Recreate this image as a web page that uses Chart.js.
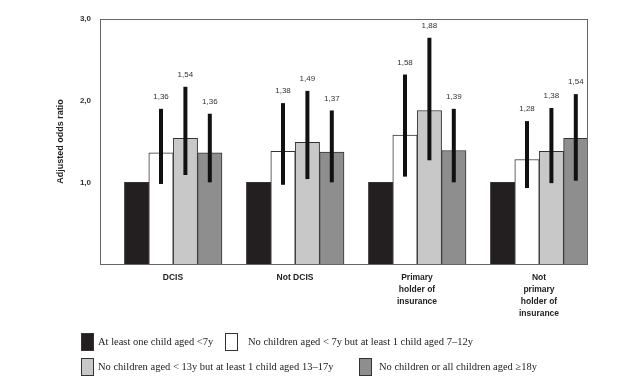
<!DOCTYPE html>
<html><head><meta charset="utf-8">
<script src="https://cdn.jsdelivr.net/npm/chart.js@4"></script>
<style>html,body{margin:0;padding:0;background:#fff}#wrap{width:640px;height:382px;position:relative}</style>
</head><body><div id="wrap"><canvas id="c"></canvas></div>
<script>
const categories = ['DCIS', 'Not DCIS', ['Primary', 'holder of', 'insurance'], ['Not', 'primary', 'holder of', 'insurance']];
const seriesNames = ['At least one child aged <7y', 'No children aged < 7y but at least 1 child aged 7\u201312y', 'No children aged < 13y but at least 1 child aged 13\u201317y', 'No children or all children aged \u226518y'];
const under7 = [1, 1, 1, 1];
const age7to12 = [1.36, 1.38, 1.58, 1.28];
const age13to17 = [1.54, 1.49, 1.88, 1.38];
const adultOrNone = [1.36, 1.37, 1.39, 1.54];
const lower7to12 = [0.98, 0.97, 1.07, 0.93];
const upper7to12 = [1.90, 1.97, 2.32, 1.75];
const lower13to17 = [1.09, 1.04, 1.27, 0.99];
const upper13to17 = [2.17, 2.12, 2.77, 1.91];
const lowerAdult = [1.00, 1.00, 1.00, 1.02];
const upperAdult = [1.84, 1.88, 1.90, 2.08];
const yTickLabels = ['', '1,0', '2,0', '3,0'];
const gapSlot = [null, null, null, null];

const fillColors = ['#231f20', '#ffffff', '#c8c8c8', '#8e8e8e'];
const legendPos = [[81, 98, 342], [225, 248, 342], [81, 98, 367], [359, 379, 367]];

Chart.defaults.font.family = '"Liberation Sans", Arial, sans-serif';

const decor = {
  id: 'decor',
  afterDatasetsDraw(chart) {
    const ctx = chart.ctx, y = chart.scales.y;
    chart.data.datasets.forEach((ds, i) => {
      if (!ds.upper) return;
      const meta = chart.getDatasetMeta(i);
      meta.data.forEach((bar, j) => {
        const x = bar.x;
        const yt = y.getPixelForValue(ds.upper[j]);
        const yb = y.getPixelForValue(ds.lower[j]);
        ctx.save();
        ctx.strokeStyle = '#111';
        ctx.lineWidth = 4;
        ctx.beginPath(); ctx.moveTo(x, yb); ctx.lineTo(x, yt); ctx.stroke();
        ctx.font = '8px "Liberation Sans", Arial, sans-serif';
        ctx.fillStyle = '#333';
        ctx.textAlign = 'center';
        ctx.textBaseline = 'middle';
        ctx.fillText(ds.data[j].toFixed(2).replace('.', ','), x, yt - 12);
        ctx.restore();
      });
    });
    const a = chart.chartArea;
    ctx.save();
    ctx.strokeStyle = '#666';
    ctx.lineWidth = 1;
    ctx.strokeRect(Math.round(a.left) + 0.5, Math.round(a.top) + 0.5, Math.round(a.right - a.left) - 1, Math.round(a.bottom - a.top));
    ctx.restore();
  },
  afterDraw(chart) {
    const ctx = chart.ctx;
    let k = 0;
    chart.data.datasets.forEach(ds => {
      if (!ds.label) return;
      const p = legendPos[k++];
      ctx.save();
      ctx.fillStyle = ds.backgroundColor;
      ctx.strokeStyle = '#333';
      ctx.lineWidth = 1;
      ctx.fillRect(p[0], p[2] - 9, 13, 18);
      ctx.strokeRect(p[0] + 0.5, p[2] - 8.5, 12, 17);
      ctx.font = '10.5px "Liberation Serif", "Times New Roman", serif';
      ctx.fillStyle = '#222';
      ctx.textAlign = 'left';
      ctx.textBaseline = 'middle';
      ctx.fillText(ds.label, p[1], p[2]);
      ctx.restore();
    });
  }
};

const mk = (label, data, i, lower, upper) => ({
  label, data, backgroundColor: fillColors[i], borderColor: '#333', borderWidth: 1,
  categoryPercentage: 1, barPercentage: 1, lower, upper
});

new Chart(document.getElementById('c'), {
  type: 'bar',
  data: {
    labels: categories,
    datasets: [
      { label: '', data: gapSlot, categoryPercentage: 1, barPercentage: 1 },
      mk(seriesNames[0], under7, 0, null, null),
      mk(seriesNames[1], age7to12, 1, lower7to12, upper7to12),
      mk(seriesNames[2], age13to17, 2, lower13to17, upper13to17),
      mk(seriesNames[3], adultOrNone, 3, lowerAdult, upperAdult)
    ]
  },
  options: {
    responsive: true, maintainAspectRatio: false, animation: false,
    layout: { padding: { top: 19, right: 52, left: 0, bottom: 0 } },
    plugins: { legend: { display: false }, tooltip: { enabled: false } },
    scales: {
      x: {
        grid: { display: false, drawTicks: false }, border: { display: false },
        ticks: { padding: 8, labelOffset: 12, maxRotation: 0, autoSkip: false, color: '#222',
          font: { size: 8.5, weight: 'bold', lineHeight: 1.4 } },
        afterFit(s) { s.height = 118; }
      },
      y: {
        min: 0, max: 3,
        grid: { display: false, drawTicks: false }, border: { display: false },
        ticks: { stepSize: 1, padding: 9, color: '#333', font: { size: 8, weight: 'bold' },
          callback: (v, i) => yTickLabels[i] },
        title: { display: true, text: 'Adjusted odds ratio', color: '#222',
          font: { size: 9, weight: 'bold' }, padding: { top: 55.6, bottom: 0 } },
        afterFit(s) { s.width = 100; }
      }
    }
  },
  plugins: [decor]
});
</script></body></html>
